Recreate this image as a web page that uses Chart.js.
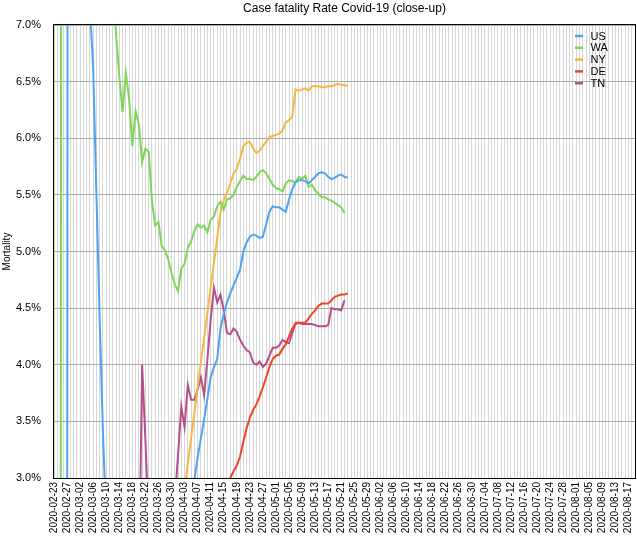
<!DOCTYPE html>
<html>
<head>
<meta charset="utf-8">
<script src="https://cdn.jsdelivr.net/npm/chart.js@4.4.0/dist/chart.umd.min.js"></script>
<style>
  html, body { margin: 0; padding: 0; background: #fff; }
  #wrap { width: 637px; height: 536px; }
</style>
</head>
<body>
<div id="wrap"><canvas id="grafica"></canvas></div>
<script>
// categorias: un dia por punto, 2020-02-23 .. 2020-08-19
const firstDay = [2020, 1, 23];
const dayCount = 179;
const dates = [];
for (let i = 0; i < dayCount; i++) {
    const d = new Date(Date.UTC(firstDay[0], firstDay[1], firstDay[2] + i));
    dates.push(d.toISOString().slice(0, 10));
}

// mortalidad en % (indice 0 = 2020-02-23)
const usValues = [0, 0, 0, 0, 0, 50, 20, 15, 12, 10,
    8.5, 7.16, 6.62, 5.5, 4.4, 3.4, 2.6, 2.3, 2.0, 1.8,
    1.6, 1.4, 1.3, 1.25, 1.3, 1.35, 1.4, 1.5, 1.6, 1.7,
    1.8, 1.95, 2.05, 2.15, 2.25, 2.35, 2.45, 2.5, 2.55, 2.6,
    2.65, 2.7, 2.75, 2.98, 3.18, 3.35, 3.52, 3.70, 3.89, 3.98,
    4.05, 4.32, 4.45, 4.55, 4.63, 4.70, 4.77, 4.84, 5.00, 5.08,
    5.13, 5.15, 5.14, 5.12, 5.13, 5.24, 5.35, 5.40, 5.39, 5.39,
    5.37, 5.35, 5.46, 5.55, 5.61, 5.63, 5.63, 5.62, 5.60, 5.63,
    5.66, 5.69, 5.70, 5.69, 5.66, 5.64, 5.65, 5.67, 5.68, 5.66,
    5.65];
const waValues = [0, 0, 0, 40, 30, 25, 22, 20, 18, 16,
    14, 12.5, 11, 10, 9.2, 8.6, 8.1, 7.7, 7.4, 6.92,
    6.55, 6.23, 6.58, 6.35, 5.93, 6.24, 6.12, 5.79, 5.91, 5.88,
    5.45, 5.23, 5.26, 5.05, 5.01, 4.93, 4.81, 4.71, 4.65, 4.85,
    4.89, 5.03, 5.09, 5.18, 5.24, 5.21, 5.23, 5.17, 5.28, 5.31,
    5.40, 5.44, 5.37, 5.46, 5.47, 5.50, 5.57, 5.62, 5.67, 5.64,
    5.64, 5.63, 5.66, 5.70, 5.72, 5.69, 5.64, 5.59, 5.56, 5.55,
    5.53, 5.60, 5.63, 5.62, 5.61, 5.66, 5.64, 5.67, 5.57, 5.59,
    5.54, 5.51, 5.48, 5.48, 5.46, 5.45, 5.43, 5.41, 5.39, 5.34];
const nyValues = [null, null, null, null, null, null, null, null, null, null,
    null, null, null, null, null, null, null, null, null, null,
    null, null, null, null, null, null, null, null, null, null,
    null, null, null, null, null, null, 2.0, 2.2, 2.45, 2.67,
    2.89, 3.13, 3.35, 3.57, 3.80, 4.02, 4.24, 4.46, 4.69, 4.90,
    5.12, 5.34, 5.45, 5.52, 5.60, 5.69, 5.73, 5.82, 5.93, 5.96,
    5.97, 5.91, 5.87, 5.89, 5.93, 5.97, 6.01, 6.02, 6.03, 6.04,
    6.07, 6.14, 6.16, 6.19, 6.43, 6.42, 6.43, 6.44, 6.42, 6.46,
    6.46, 6.46, 6.45, 6.45, 6.46, 6.46, 6.47, 6.48, 6.47, 6.47,
    6.46];
const deValues = [null, null, null, null, null, null, null, null, null, null,
    null, null, null, null, null, null, null, null, null, null,
    null, null, null, null, null, null, null, null, null, null,
    null, null, null, null, null, null, null, null, null, null,
    null, null, null, null, 2.2, 2.3, 2.4, 2.5, 2.6, 2.65,
    2.7, 2.75, 2.82, 2.92, 3.0, 3.06, 3.11, 3.19, 3.32, 3.44,
    3.53, 3.60, 3.65, 3.72, 3.80, 3.89, 3.98, 4.05, 4.08, 4.09,
    4.14, 4.18, 4.25, 4.32, 4.36, 4.37, 4.37, 4.37, 4.41, 4.45,
    4.48, 4.52, 4.54, 4.54, 4.54, 4.57, 4.60, 4.61, 4.62, 4.62,
    4.63];
const tnValues = [null, null, null, null, null, null, null, null, null, null,
    null, null, null, null, null, null, null, null, null, null,
    null, null, null, null, null, null, 2.0, 4.0, 3.34, 2.6,
    2.2, 2.0, 1.9, 2.0, 2.2, 2.4, 2.6, 2.8, 3.2, 3.63,
    3.45, 3.82, 3.69, 3.69, 3.78, 3.89, 3.73, 4.05, 4.40, 4.68,
    4.55, 4.62, 4.48, 4.28, 4.27, 4.32, 4.29, 4.22, 4.17, 4.13,
    4.11, 4.02, 4.00, 4.03, 3.98, 4.01, 4.08, 4.15, 4.15, 4.17,
    4.22, 4.20, 4.19, 4.28, 4.37, 4.37, 4.36, 4.36, 4.36, 4.36,
    4.35, 4.34, 4.34, 4.34, 4.35, 4.50, 4.49, 4.49, 4.48, 4.57];

const yMin = 3.0;
const yMax = 7.0;
const yStep = 0.5;

const series = [
    { label: 'US', data: usValues, color: '#4ea3f2' },
    { label: 'WA', data: waValues, color: '#80d55a' },
    { label: 'NY', data: nyValues, color: '#f4b942' },
    { label: 'DE', data: deValues, color: '#ee4427' },
    { label: 'TN', data: tnValues, color: '#b5508a' }
];

// leyenda dentro del area del grafico, arriba a la derecha
const leyendaInterna = {
    id: 'leyendaInterna',
    afterDatasetsDraw(chart) {
        const { ctx, chartArea } = chart;
        ctx.save();
        ctx.font = '11px "Liberation Sans", Arial, sans-serif';
        ctx.textBaseline = 'middle';
        chart.data.datasets.forEach((ds, i) => {
            const y = chartArea.top + 11 + i * 11.8;
            const x = chartArea.right - 60;
            ctx.strokeStyle = ds.borderColor;
            ctx.lineWidth = 2.5;
            ctx.beginPath();
            ctx.moveTo(x, y);
            ctx.lineTo(x + 8, y);
            ctx.stroke();
            ctx.fillStyle = '#000';
            ctx.fillText(ds.label, x + 15.5, y + 0.5);
        });
        ctx.restore();
    }
};

// marco negro alrededor del area
const marco = {
    id: 'marco',
    afterDatasetsDraw(chart) {
        const { ctx, chartArea } = chart;
        ctx.save();
        ctx.strokeStyle = '#000';
        ctx.lineWidth = 1;
        ctx.strokeRect(Math.round(chartArea.left) - 0.5, Math.round(chartArea.top) - 0.5,
            Math.round(chartArea.right - chartArea.left) + 1, Math.round(chartArea.bottom - chartArea.top) + 1);
        ctx.restore();
    }
};

Chart.defaults.font.family = '"Liberation Sans", Arial, sans-serif';
Chart.defaults.color = '#000';

const ctx = document.getElementById('grafica').getContext('2d');
new Chart(ctx, {
    type: 'line',
    data: {
        labels: dates,
        datasets: series.map(s => ({
            label: s.label,
            data: s.data,
            borderColor: s.color,
            backgroundColor: s.color,
            borderWidth: 2,
            pointRadius: 0,
            pointHoverRadius: 0,
            tension: 0,
            fill: false
        }))
    },
    options: {
        responsive: true,
        maintainAspectRatio: false,
        animation: false,
        devicePixelRatio: 1,
        layout: { padding: { left: 0, right: 2, top: 0, bottom: 0 } },
        plugins: {
            legend: { display: false },
            tooltip: { enabled: false },
            title: {
                display: true,
                text: 'Case fatality Rate Covid-19 (close-up)',
                fullSize: false,
                color: '#000',
                font: { size: 12, weight: 'normal' },
                padding: { top: 1, bottom: 9.6 }
            }
        },
        scales: {
            x: {
                afterFit: s => { s.height = 58; s.paddingLeft = 0; s.paddingRight = 0; },
                grid: { color: '#d6d6d6', lineWidth: 1, drawTicks: false },
                border: { display: false },
                ticks: {
                    autoSkip: false,
                    minRotation: 90,
                    maxRotation: 90,
                    padding: 4,
                    font: { size: 10 },
                    color: '#000',
                    callback: function (value, index) {
                        return index % 4 === 0 ? this.getLabelForValue(value) : '';
                    }
                }
            },
            y: {
                min: yMin,
                max: yMax,
                afterFit: s => { s.width = 54; },
                grid: { color: '#ababab', lineWidth: 1, drawTicks: false },
                border: { display: false },
                ticks: {
                    stepSize: yStep,
                    padding: 13,
                    font: { size: 11 },
                    color: '#000',
                    callback: v => v.toFixed(1) + '%'
                },
                title: {
                    display: true,
                    text: 'Mortality',
                    color: '#000',
                    font: { size: 10 },
                    padding: { top: 1, bottom: 0 }
                }
            }
        }
    },
    plugins: [leyendaInterna, marco]
});
</script>
</body>
</html>
